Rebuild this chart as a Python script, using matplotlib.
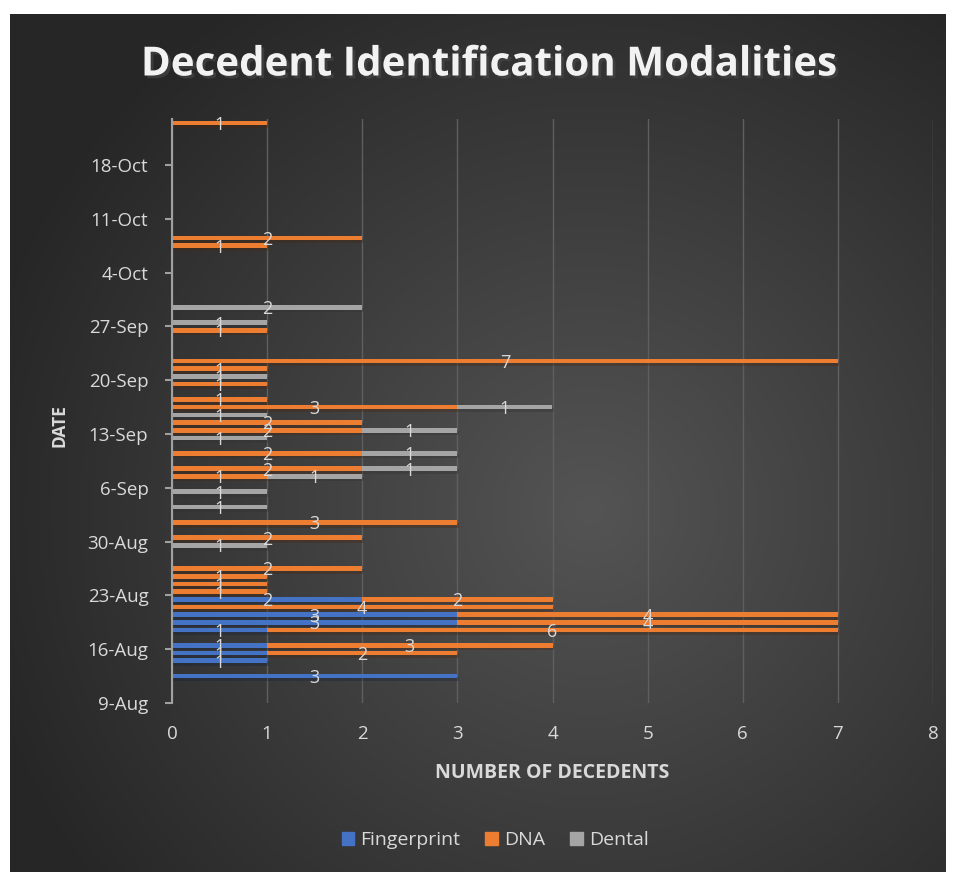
import numpy as np
import pandas as pd
import matplotlib.pyplot as plt
import matplotlib.dates as mdates
import matplotlib.patheffects as pe
from matplotlib.patches import Patch
from matplotlib.ticker import FuncFormatter

plt.rcParams['font.family'] = ['Open Sans', 'DejaVu Sans']

dates = ['2021-08-12', '2021-08-14', '2021-08-15', '2021-08-16', '2021-08-18',
         '2021-08-19', '2021-08-20', '2021-08-21', '2021-08-22', '2021-08-23',
         '2021-08-24', '2021-08-25', '2021-08-26', '2021-08-29', '2021-08-30',
         '2021-09-01', '2021-09-03', '2021-09-05', '2021-09-07', '2021-09-08',
         '2021-09-10', '2021-09-12', '2021-09-13', '2021-09-14', '2021-09-15',
         '2021-09-16', '2021-09-17', '2021-09-19', '2021-09-20', '2021-09-21',
         '2021-09-22', '2021-09-26', '2021-09-27', '2021-09-29', '2021-10-07',
         '2021-10-08', '2021-10-23']
fingerprint = [3, 1, 1, 1, 1, 3, 3, 0, 2, 0, 0, 0, 0, 0, 0, 0, 0, 0, 0, 0,
               0, 0, 0, 0, 0, 0, 0, 0, 0, 0, 0, 0, 0, 0, 0, 0, 0]
dna = [0, 0, 2, 3, 6, 4, 4, 4, 2, 1, 1, 1, 2, 0, 2, 3, 0, 0, 1, 2,
       2, 0, 2, 2, 0, 3, 1, 1, 0, 1, 7, 1, 0, 0, 1, 2, 1]
dental = [0, 0, 0, 0, 0, 0, 0, 0, 0, 0, 0, 0, 0, 1, 0, 0, 1, 1, 1, 1,
          1, 1, 1, 0, 1, 1, 0, 0, 1, 0, 0, 0, 1, 2, 0, 0, 0]
series_names = ['Fingerprint', 'DNA', 'Dental']
colors = ['#4472C4', '#ED7D31', '#A5A5A5']

txt = '#d9d9d9'
fig = plt.figure(figsize=(9.56, 8.72), dpi=100, facecolor='white')

# dark radial background
bg = fig.add_axes([10 / 956, 0, 936 / 956, 858 / 872])
bg.axis('off')
gx, gy = np.meshgrid(np.linspace(0, 1, 400), np.linspace(0, 1, 400))
r = np.sqrt(((gx - 0.62) / 0.75) ** 2 + ((gy - 0.58) / 0.8) ** 2)
g = np.clip(0.33 - 0.2 * r, 0.15, 0.33)
bg.imshow(np.dstack([g, g, g]), extent=[0, 1, 0, 1], aspect='auto', origin='upper')
bg.set_xlim(0, 1)
bg.set_ylim(0, 1)

ax = fig.add_axes([172 / 956, 1 - 703 / 872, 761 / 956, 584 / 872])
ax.set_facecolor('none')

y = mdates.date2num(pd.to_datetime(dates)) + 0.5
left = np.zeros(len(dates))
for vals, name, c in zip([fingerprint, dna, dental], series_names, colors):
    vals = np.array(vals)
    ax.barh(y, vals, left=left, height=0.6, color=c, zorder=3,
            path_effects=[pe.SimplePatchShadow(offset=(1, -2), alpha=0.35), pe.Normal()])
    for yi, l, v in zip(y, left, vals):
        if v > 0:
            ax.text(l + v / 2, yi - 0.25, str(v), ha='center', va='center',
                    color=txt, fontsize=13, zorder=5)
    left = left + vals

start = pd.Timestamp('2021-08-09')
ax.set_ylim(mdates.date2num(start), mdates.date2num(pd.Timestamp('2021-10-24')))
ax.set_yticks(mdates.date2num(pd.date_range(start, '2021-10-18', freq='7D')))
ax.yaxis.set_major_formatter(FuncFormatter(
    lambda v, p: '{}-{}'.format(mdates.num2date(v).day, mdates.num2date(v).strftime('%b'))))
ax.set_xlim(0, 8)
ax.set_xticks(range(9))

ax.grid(axis='x', color='#5f5f5f', linewidth=1, zorder=0)
for s in ['top', 'right', 'bottom']:
    ax.spines[s].set_visible(False)
ax.spines['left'].set_color('#a0a0a0')
ax.spines['left'].set_linewidth(1.5)
ax.spines['left'].set_zorder(4)
ax.tick_params(axis='y', colors='#a0a0a0', labelcolor=txt, labelsize=13.5,
               length=5, width=1.5, pad=12)
ax.tick_params(axis='x', length=0, labelcolor=txt, labelsize=13.5, pad=16)

ax.set_xlabel('NUMBER OF DECEDENTS', color=txt, fontsize=14, fontweight='bold', labelpad=14)
ax.set_ylabel('DATE', color=txt, fontsize=12.5, fontweight='bold')
ax.yaxis.set_label_coords(-(172 - 68) / 761, (703 - 426) / 584)

fig.text(488 / 956, 1 - 65 / 872, 'Decedent Identification Modalities', ha='center', va='center',
         color='#f2f2f2', fontsize=29, fontweight='bold',
         path_effects=[pe.withSimplePatchShadow(offset=(2, -2), alpha=0.6)])

handles = [Patch(color=c, label=n) for c, n in zip(colors, series_names)]
fig.legend(handles=handles, loc='center', bbox_to_anchor=(495 / 956, 1 - 840 / 872),
           ncol=3, frameon=False, fontsize=14, labelcolor=txt, handlelength=0.65,
           handleheight=0.65, handletextpad=0.3, columnspacing=1.3)

fig.savefig('out.png', dpi=100, facecolor='white')
